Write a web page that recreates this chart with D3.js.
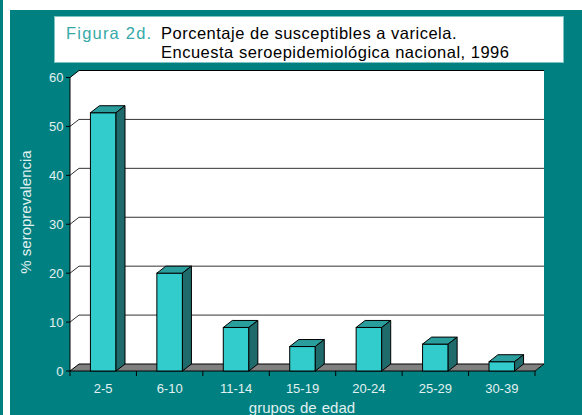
<!DOCTYPE html>
<html>
<head>
<meta charset="utf-8">
<script src="https://cdn.jsdelivr.net/npm/d3@7"></script>
<style>
  body { margin: 0; background: #fff; }
  svg { display: block; font-family: "Liberation Sans", Arial, sans-serif; }
</style>
</head>
<body>
<div id="chart"></div>
<script>
// Data
var categories = ["2-5", "6-10", "11-14", "15-19", "20-24", "25-29", "30-39"];
var values = [52.8, 20, 8.9, 5, 8.9, 5.5, 1.9];
var y_ticks = [0, 10, 20, 30, 40, 50, 60];

var W = 582, H = 415;
var teal = "#008080";

// 3D depth of the walls and bars
var dx = 9, dy = 7;

var svg = d3.select("#chart").append("svg")
    .attr("width", W)
    .attr("height", H);

//Background: white page, teal panel with a white strip on the left
svg.append("rect").attr("width", W).attr("height", H).attr("fill", "#fff");
svg.append("rect").attr("x", 0).attr("y", 0).attr("width", 3).attr("height", H).attr("fill", teal);
svg.append("rect").attr("x", 10).attr("y", 10).attr("width", W - 10).attr("height", H - 10).attr("fill", teal);

//Title box
svg.append("rect")
    .attr("x", 54.5).attr("y", 16.5)
    .attr("width", 509).attr("height", 46)
    .attr("fill", "#fff")
    .attr("stroke", "#7fc4c4");

var title = svg.append("g").style("font-size", "16.5px");
title.append("text")
    .attr("x", 66).attr("y", 39)
    .attr("fill", "#36a9a9")
    .style("letter-spacing", "1.2px")
    .text("Figura 2d.");
title.append("text")
    .attr("x", 161).attr("y", 39)
    .attr("fill", "#000")
    .style("letter-spacing", "0.5px")
    .text("Porcentaje de susceptibles a varicela.");
title.append("text")
    .attr("x", 161).attr("y", 58)
    .attr("fill", "#000")
    .style("letter-spacing", "0.5px")
    .text("Encuesta seroepidemiológica nacional, 1996");

//Scales
var x = d3.scaleBand()
    .domain(categories)
    .range([70, 535])
    .padding(0);

var y = d3.scaleLinear()
    .domain([0, 60])
    .range([371, 77.5]);

var y0 = y(0), yTop = y(60);
var xl = x.range()[0], xr = x.range()[1];

//Wall (white): side wall + back wall
svg.append("polygon")
    .attr("points", [
        [xl, y0], [xl, yTop], [xl + dx, yTop - dy], [xr + dx, yTop - dy], [xr + dx, y0 - dy], [xr, y0]
    ].map(function(p) { return p.join(","); }).join(" "))
    .attr("fill", "#fff");

//Gridlines (diagonal on the side wall + horizontal on the back wall)
var grid = svg.append("g").attr("class", "grid");
grid.selectAll("path")
    .data(y_ticks.filter(function(d) { return d > 0; }))
    .enter().append("path")
    .attr("d", function(d) {
        var yy = y(d);
        return "M" + xl + "," + yy + "L" + (xl + dx) + "," + (yy - dy) + "L" + (xr + dx) + "," + (yy - dy);
    })
    .attr("fill", "none")
    .attr("stroke", function(d) { return d == 60 ? "#000" : "#333"; })
    .attr("stroke-width", 1);

//Floor
svg.append("polygon")
    .attr("points", [
        [xl, y0], [xl + dx, y0 - dy], [xr + dx, y0 - dy], [xr, y0]
    ].map(function(p) { return p.join(","); }).join(" "))
    .attr("fill", "#808080")
    .attr("stroke", "#000")
    .attr("stroke-width", 1)
    .attr("stroke-linejoin", "round");

//Y axis line + ticks
svg.append("line")
    .attr("x1", xl).attr("x2", xl)
    .attr("y1", y0).attr("y2", yTop)
    .attr("stroke", "#000");

var yAxis = svg.append("g").attr("class", "y axis");
yAxis.selectAll("line")
    .data(y_ticks)
    .enter().append("line")
    .attr("x1", xl - 4).attr("x2", xl)
    .attr("y1", function(d) { return y(d); })
    .attr("y2", function(d) { return y(d); })
    .attr("stroke", "#000");
yAxis.selectAll("text")
    .data(y_ticks)
    .enter().append("text")
    .attr("x", 63.5)
    .attr("y", function(d) { return y(d); })
    .attr("dy", "0.36em")
    .attr("text-anchor", "end")
    .attr("fill", "#e2f1f1")
    .style("font-size", "13px")
    .text(function(d) { return d; });

//X axis ticks at category edges
var x_edges = categories.map(function(c) { return x(c); }).concat([xr]);
var xAxis = svg.append("g").attr("class", "x axis");
xAxis.selectAll("line")
    .data(x_edges)
    .enter().append("line")
    .attr("x1", function(d) { return d; })
    .attr("x2", function(d) { return d; })
    .attr("y1", y0).attr("y2", y0 + 5)
    .attr("stroke", "#000");
xAxis.selectAll("text")
    .data(categories)
    .enter().append("text")
    .attr("x", function(d) { return x(d) + x.bandwidth() / 2; })
    .attr("y", 392.5)
    .attr("text-anchor", "middle")
    .attr("fill", "#e2f1f1")
    .style("font-size", "13px")
    .text(function(d) { return d; });

//Bars (front, top, side)
var barW = x.bandwidth() * 0.385;
var bars = svg.selectAll(".bar")
    .data(categories.map(function(c, i) { return {cat: c, value: values[i]}; }))
    .enter().append("g")
    .attr("class", "bar");

bars.append("rect")
    .attr("x", function(d) { return x(d.cat) + (x.bandwidth() - barW) / 2; })
    .attr("y", function(d) { return y(d.value); })
    .attr("width", barW)
    .attr("height", function(d) { return y0 - y(d.value); })
    .attr("fill", "#33cccc")
    .attr("stroke", "#000");

bars.append("polygon")
    .attr("points", function(d) {
        var bx = x(d.cat) + (x.bandwidth() - barW) / 2, by = y(d.value);
        return [[bx, by], [bx + dx, by - dy], [bx + barW + dx, by - dy], [bx + barW, by]]
            .map(function(p) { return p.join(","); }).join(" ");
    })
    .attr("fill", "#2a9d9d")
    .attr("stroke", "#000")
    .attr("stroke-linejoin", "round");

bars.append("polygon")
    .attr("points", function(d) {
        var bx = x(d.cat) + (x.bandwidth() - barW) / 2 + barW, by = y(d.value);
        return [[bx, by], [bx + dx, by - dy], [bx + dx, y0 - dy], [bx, y0]]
            .map(function(p) { return p.join(","); }).join(" ");
    })
    .attr("fill", "#1f6a6a")
    .attr("stroke", "#000")
    .attr("stroke-linejoin", "round");

//Axis titles
svg.append("text")
    .attr("x", 302)
    .attr("y", 413)
    .attr("text-anchor", "middle")
    .attr("fill", "#e2f1f1")
    .style("font-size", "15px")
    .style("word-spacing", "1px")
    .text("grupos de edad");

svg.append("text")
    .attr("transform", "translate(31,212) rotate(-90)")
    .attr("text-anchor", "middle")
    .attr("fill", "#e2f1f1")
    .style("font-size", "15px")
    .text("% seroprevalencia");
</script>
</body>
</html>
